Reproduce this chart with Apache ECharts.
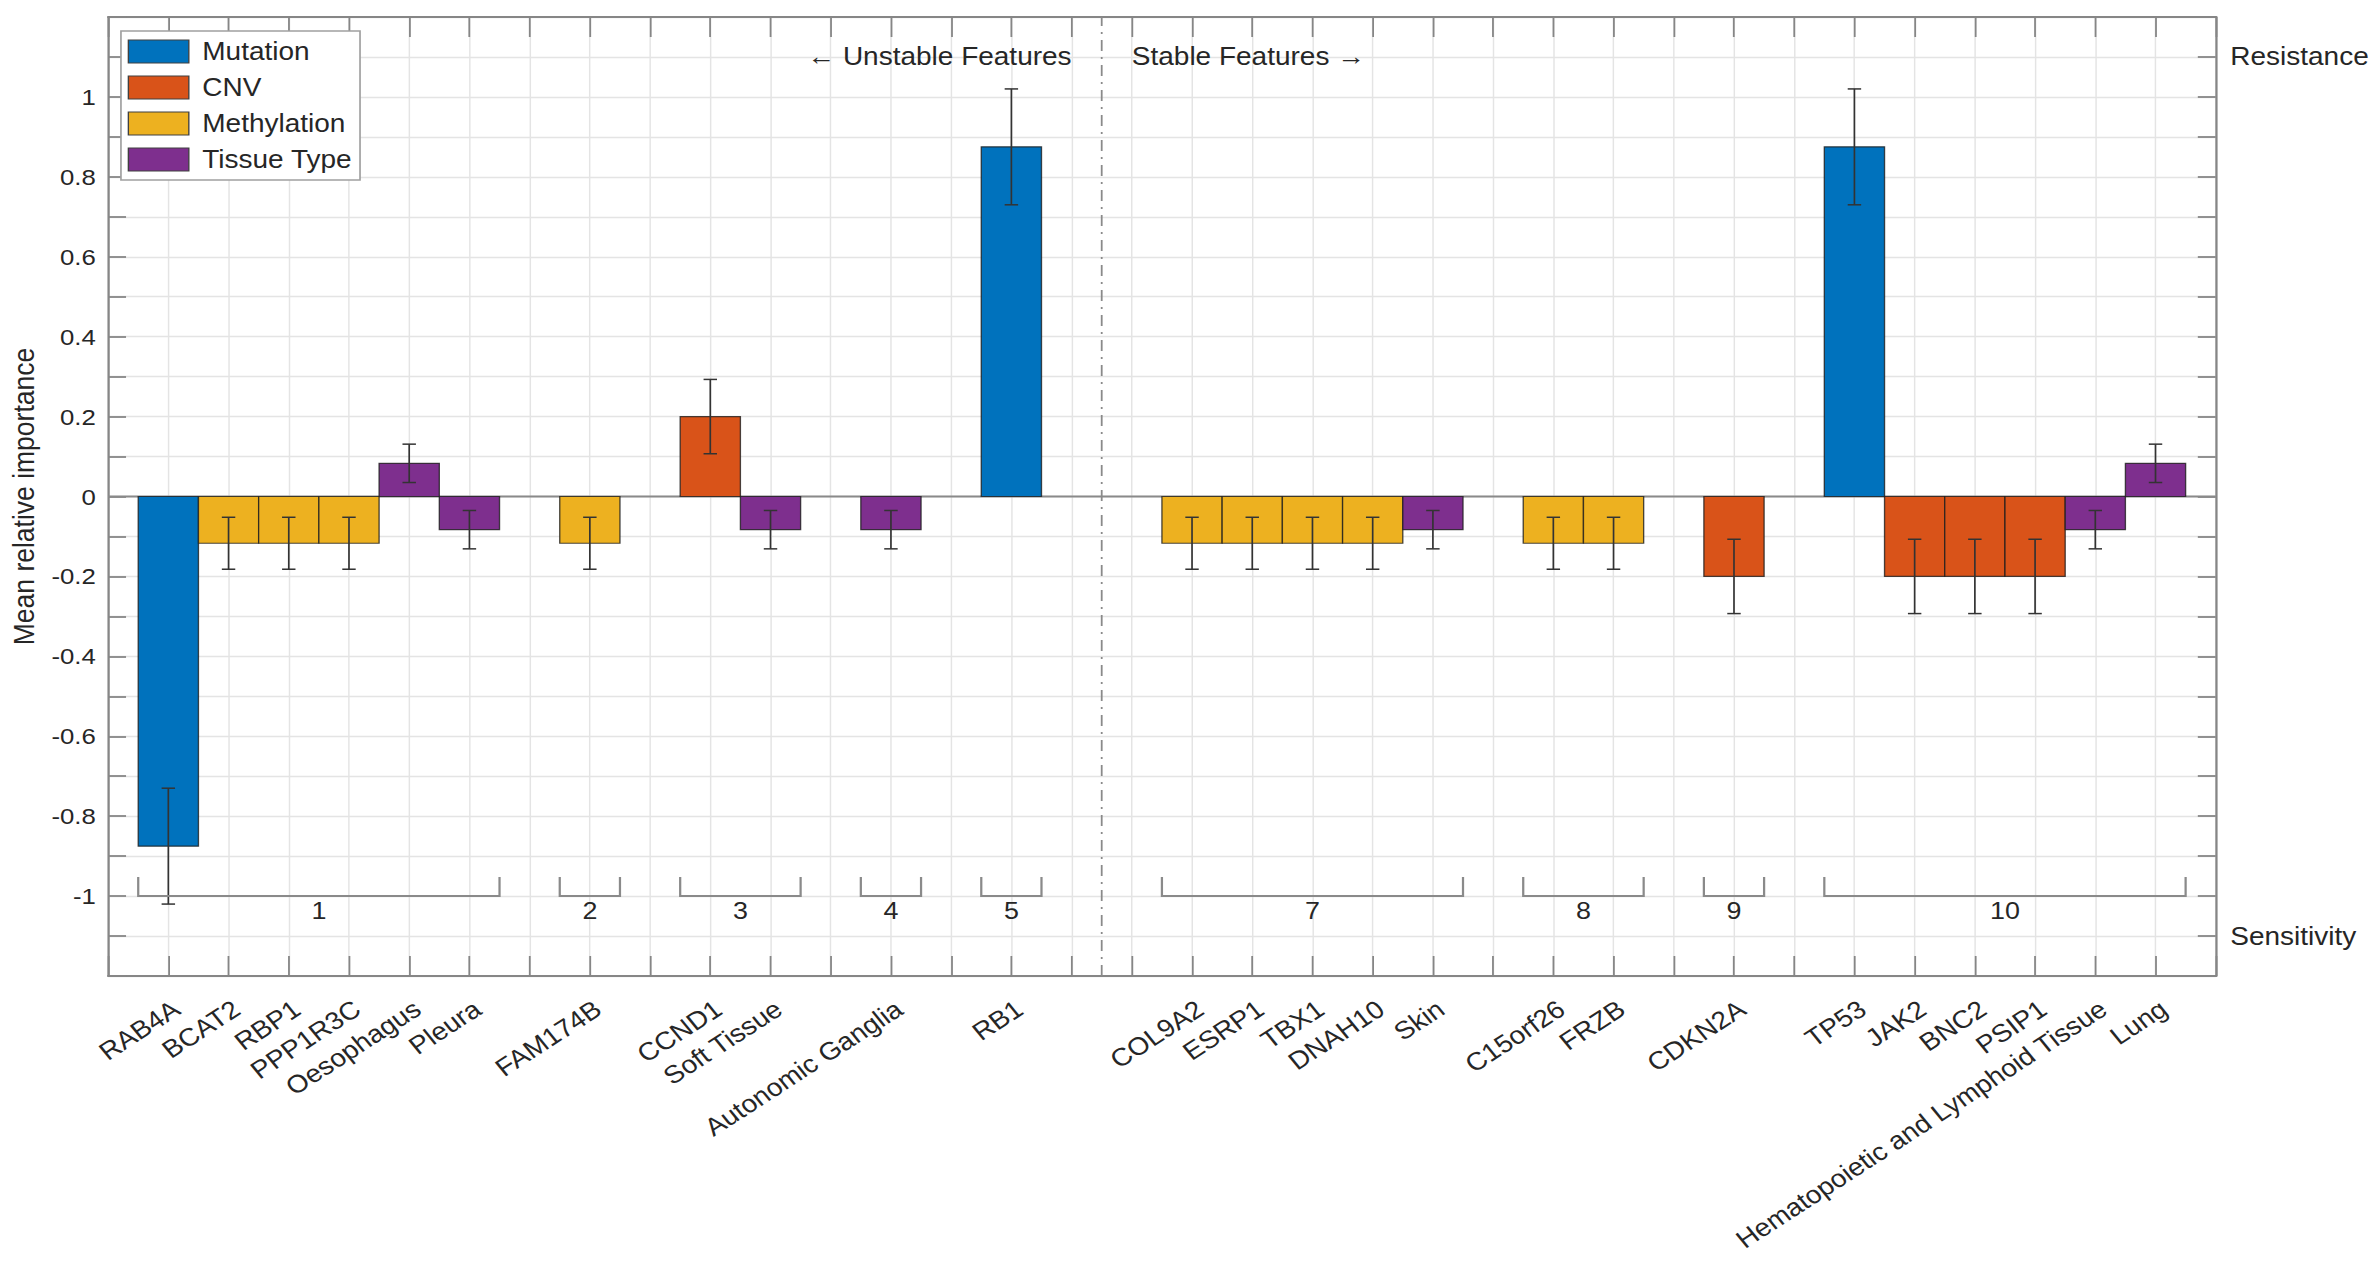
<!DOCTYPE html>
<html>
<head>
<meta charset="utf-8">
<title>Mean relative importance of drug-response features</title>
<script src="https://cdn.jsdelivr.net/npm/echarts@6/dist/echarts.min.js"></script>
<style>
  html, body { margin: 0; padding: 0; background: #ffffff; overflow: hidden; }
  /* the figure is laid out narrower and widened as a whole */
  #chart { width: 2118px; height: 1268px; transform: scaleX(1.12); transform-origin: 0 0; }
</style>
</head>
<body>
<div id="chart"></div>
<script>
// ---- data -------------------------------------------------------------
// Feature groups in plotting order (group 6 holds no features).
const groupMembers = [
  ['RAB4A', 'BCAT2', 'RBP1', 'PPP1R3C', 'Oesophagus', 'Pleura'],
  ['FAM174B'],
  ['CCND1', 'Soft Tissue'],
  ['Autonomic Ganglia'],
  ['RB1'],
  [],
  ['COL9A2', 'ESRP1', 'TBX1', 'DNAH10', 'Skin'],
  ['C15orf26', 'FRZB'],
  ['CDKN2A'],
  ['TP53', 'JAK2', 'BNC2', 'PSIP1', 'Hematopoietic and Lymphoid Tissue', 'Lung']
];

const featureNames = [
  'RAB4A', 'BCAT2', 'RBP1', 'PPP1R3C', 'Oesophagus', 'Pleura',
  'FAM174B', 'CCND1', 'Soft Tissue', 'Autonomic Ganglia', 'RB1',
  'COL9A2', 'ESRP1', 'TBX1', 'DNAH10', 'Skin',
  'C15orf26', 'FRZB', 'CDKN2A',
  'TP53', 'JAK2', 'BNC2', 'PSIP1', 'Hematopoietic and Lymphoid Tissue', 'Lung'
];

const featureTypes = [
  'Mutation', 'Methylation', 'Methylation', 'Methylation', 'Tissue Type', 'Tissue Type',
  'Methylation', 'CNV', 'Tissue Type', 'Tissue Type', 'Mutation',
  'Methylation', 'Methylation', 'Methylation', 'Methylation', 'Tissue Type',
  'Methylation', 'Methylation', 'CNV',
  'Mutation', 'CNV', 'CNV', 'CNV', 'Tissue Type', 'Tissue Type'
];

const importance = [
  -0.875, -0.117, -0.117, -0.117, 0.083, -0.083,
  -0.117, 0.2, -0.083, -0.083, 0.875,
  -0.117, -0.117, -0.117, -0.117, -0.083,
  -0.117, -0.117, -0.2,
  0.875, -0.2, -0.2, -0.2, -0.083, 0.083
];

const importanceErr = [
  0.145, 0.065, 0.065, 0.065, 0.048, 0.048,
  0.065, 0.093, 0.048, 0.048, 0.145,
  0.065, 0.065, 0.065, 0.065, 0.048,
  0.065, 0.065, 0.093,
  0.145, 0.093, 0.093, 0.093, 0.048, 0.048
];

const typeNames = ['Mutation', 'CNV', 'Methylation', 'Tissue Type'];
const yRange = [-1.2, 1.2];
const yStep = 0.1;
const sideLabels = ['Resistance', 'Sensitivity'];
const dividerTexts = ['\u2190 Unstable Features', 'Stable Features \u2192'];
const yAxisTitle = 'Mean relative importance';

// ---- styles -----------------------------------------------------------
const typeColors = ['#0072BD', '#D95319', '#EDB120', '#7E2F8E'];
const FONT = '"Liberation Sans", Arial, Helvetica, sans-serif';
const TEXT = '#262626';
const AXIS = '#868686';
const GRID = '#e4e4e4';
const EDGE = 'rgba(30,30,30,0.8)';

// ---- layout of the category slots ------------------------------------
// Members of a group sit side by side; one empty slot follows each group.
const slotOf = {};
const groupSpans = [];
let slot = 1;
groupMembers.forEach((members, gi) => {
  const start = slot;
  members.forEach(name => { slotOf[name] = slot; slot += 1; });
  groupSpans.push({ id: gi + 1, start: start, end: slot - 1, count: members.length });
  slot += 1;
});
const xMax = slot - 1;
const slotLabels = {};
featureNames.forEach(n => { slotLabels[slotOf[n]] = n; });
// boundary between unstable (groups 1-5) and stable (groups 7-10) features
const divider = (groupSpans[4].end + groupSpans[6].start) / 2;
const headerLevel = yRange[1] - yStep;

// ---- series renderers -------------------------------------------------
function renderBar(params, api) {
  const x = api.value(0), v = api.value(1);
  const p0 = api.coord([x - 0.5, 0]);
  const p1 = api.coord([x + 0.5, v]);
  return {
    type: 'rect',
    shape: { x: p0[0], y: Math.min(p0[1], p1[1]), width: p1[0] - p0[0], height: Math.abs(p1[1] - p0[1]) },
    style: { fill: api.visual('color'), stroke: EDGE, lineWidth: 1.2 }
  };
}

function renderErr(params, api) {
  const x = api.value(0), v = api.value(1), e = api.value(2);
  const hi = api.coord([x, v + e]);
  const lo = api.coord([x, v - e]);
  const cap = 6;
  const st = { stroke: '#333333', lineWidth: 1.5 };
  return {
    type: 'group',
    children: [
      { type: 'line', shape: { x1: hi[0], y1: hi[1], x2: lo[0], y2: lo[1] }, style: st },
      { type: 'line', shape: { x1: hi[0] - cap, y1: hi[1], x2: hi[0] + cap, y2: hi[1] }, style: st },
      { type: 'line', shape: { x1: lo[0] - cap, y1: lo[1], x2: lo[0] + cap, y2: lo[1] }, style: st }
    ]
  };
}

const bracketBase = -1.0, bracketTip = -0.952;
function renderBracket(params, api) {
  const s = api.value(0), e = api.value(1), id = api.value(2);
  const a = api.coord([s - 0.5, bracketTip]);
  const b = api.coord([s - 0.5, bracketBase]);
  const c = api.coord([e + 0.5, bracketBase]);
  const d = api.coord([e + 0.5, bracketTip]);
  return {
    type: 'group',
    children: [
      { type: 'polyline', shape: { points: [a, b, c, d] },
        style: { stroke: '#8a8a8a', lineWidth: 2, fill: null } },
      { type: 'text', x: (b[0] + c[0]) / 2, y: b[1] + 2,
        style: { text: String(id), fill: TEXT, font: '24px ' + FONT, align: 'center', verticalAlign: 'top' } }
    ]
  };
}

function renderHeader(params, api) {
  const p = api.coord([api.value(0), api.value(1)]);
  return {
    type: 'text', x: p[0], y: p[1],
    style: { text: dividerTexts[params.dataIndex], fill: TEXT, font: '25px ' + FONT,
             align: params.dataIndex === 0 ? 'right' : 'left', verticalAlign: 'middle' }
  };
}

// ---- series -----------------------------------------------------------
const barSeries = typeNames.map((t, ti) => ({
  name: t,
  type: 'custom',
  renderItem: renderBar,
  xAxisIndex: 0, yAxisIndex: 0,
  encode: { x: 0, y: 1 },
  itemStyle: { color: typeColors[ti], borderColor: EDGE, borderWidth: 1.2 },
  data: featureNames
    .map((n, i) => [slotOf[n], importance[i], importanceErr[i], featureTypes[i]])
    .filter(d => d[3] === t)
    .map(d => [d[0], d[1], d[2]]),
  z: 3
}));

const option = {
  animation: false,
  textStyle: { fontFamily: FONT, color: TEXT },
  grid: { left: 94, right: 138, top: 17, bottom: 292 },
  legend: {
    data: typeNames,
    orient: 'vertical',
    left: 108, top: 31,
    padding: [8, 7, 8, 6],
    itemWidth: 54, itemHeight: 23, itemGap: 11,
    icon: 'rect',
    backgroundColor: '#ffffff',
    borderColor: '#a0a0a0', borderWidth: 1.5,
    itemStyle: { borderColor: '#404040', borderWidth: 1.2 },
    textStyle: { fontSize: 25, color: TEXT, padding: [0, 0, 0, 7], lineHeight: 23 },
    selectedMode: false,
    z: 20
  },
  xAxis: [
    {
      type: 'value', position: 'bottom', min: 0, max: xMax, interval: 1,
      axisLine: { show: true, onZero: false, lineStyle: { color: AXIS, width: 2 } },
      axisTick: { show: true, inside: true, length: 20, lineStyle: { color: AXIS, width: 1.6 } },
      axisLabel: {
        formatter: v => slotLabels[Math.round(v)] || '',
        rotate: 36, fontSize: 25, color: TEXT, margin: 20, verticalAlign: 'top'
      },
      splitLine: { show: true, lineStyle: { color: GRID, width: 1.3 } }
    },
    {
      type: 'value', position: 'top', min: 0, max: xMax, interval: 1,
      axisLine: { show: true, onZero: false, lineStyle: { color: AXIS, width: 2 } },
      axisTick: { show: true, inside: true, length: 20, lineStyle: { color: AXIS, width: 1.6 } },
      axisLabel: { show: false },
      splitLine: { show: false }
    }
  ],
  yAxis: [
    {
      type: 'value', position: 'left', min: yRange[0], max: yRange[1], interval: yStep,
      name: yAxisTitle, nameLocation: 'middle', nameGap: 57,
      nameTextStyle: { fontSize: 26.5, color: TEXT },
      axisLine: { show: true, onZero: false, lineStyle: { color: AXIS, width: 2 } },
      axisTick: { show: true, inside: true, length: 16, lineStyle: { color: AXIS, width: 1.8 } },
      axisLabel: {
        fontSize: 23, color: TEXT, margin: 11,
        formatter: v => {
          const k = Math.round(v / yStep);
          if (k % 2 !== 0 || Math.abs(k) > 10) return '';
          return String(k / 10);
        }
      },
      splitLine: { show: true, lineStyle: { color: GRID, width: 1.3 } }
    },
    {
      type: 'value', position: 'right', min: yRange[0], max: yRange[1], interval: yStep,
      axisLine: { show: true, onZero: false, lineStyle: { color: AXIS, width: 2 } },
      axisTick: { show: true, inside: true, length: 16, lineStyle: { color: AXIS, width: 1.8 } },
      axisLabel: {
        fontSize: 25, color: TEXT, margin: 13,
        formatter: v => {
          const k = Math.round(v / yStep);
          if (k === Math.round(headerLevel / yStep)) return sideLabels[0];
          if (k === -Math.round(headerLevel / yStep)) return sideLabels[1];
          return '';
        }
      },
      splitLine: { show: false }
    }
  ],
  series: [
    {
      name: 'baseline', type: 'line', xAxisIndex: 0, yAxisIndex: 0,
      data: [[0, 0], [xMax, 0]], symbol: 'none', silent: true,
      lineStyle: { color: '#8a8a8a', width: 2 }, z: 2
    },
    {
      name: 'divider', type: 'line', xAxisIndex: 0, yAxisIndex: 0,
      data: [[divider, yRange[0]], [divider, yRange[1]]], symbol: 'none', silent: true,
      lineStyle: { color: '#8a8a8a', width: 1.6, type: [11, 6, 2, 6] }, z: 2
    },
    ...barSeries,
    {
      name: 'error', type: 'custom', renderItem: renderErr,
      xAxisIndex: 0, yAxisIndex: 0, encode: { x: 0, y: 1 }, silent: true,
      data: featureNames.map((n, i) => [slotOf[n], importance[i], importanceErr[i]]),
      z: 4
    },
    {
      name: 'groups', type: 'custom', renderItem: renderBracket,
      xAxisIndex: 0, yAxisIndex: 0, encode: { x: 0, y: 1 }, silent: true,
      data: groupSpans.filter(g => g.count > 0).map(g => [g.start, g.end, g.id]),
      z: 4
    },
    {
      name: 'headers', type: 'custom', renderItem: renderHeader,
      xAxisIndex: 0, yAxisIndex: 0, encode: { x: 0, y: 1 }, silent: true,
      data: [[divider - 0.5, headerLevel], [divider + 0.5, headerLevel]],
      z: 4
    }
  ]
};

const chart = echarts.init(document.getElementById('chart'), null, { renderer: 'svg' });
chart.setOption(option);
</script>
</body>
</html>
